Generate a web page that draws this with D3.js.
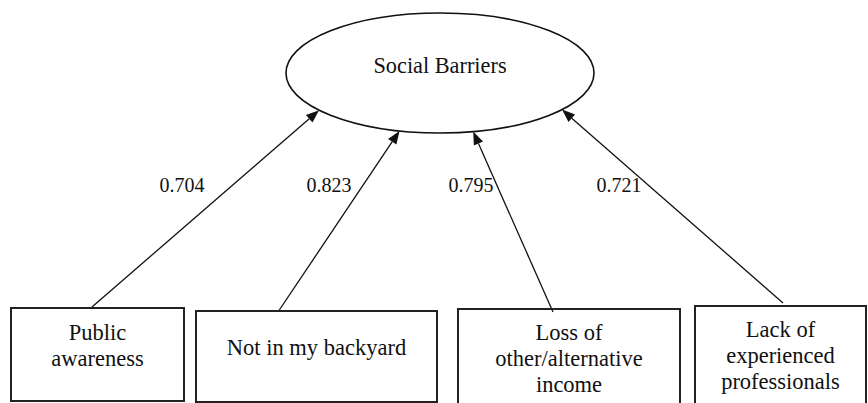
<!DOCTYPE html>
<html>
<head>
<meta charset="utf-8">
<script src="https://cdn.jsdelivr.net/npm/d3@7"></script>
<style>
  html, body { margin: 0; padding: 0; background: #fff; }
  svg { display: block; }
  text { fill: #111; }
</style>
</head>
<body>
<div id="chart"></div>
<script>
"use strict";
// construct and indicator data
const latent = "Social Barriers";
const indicators = [
    ["Public", "awareness"],
    ["Not in my backyard"],
    ["Loss of", "other/alternative", "income"],
    ["Lack of", "experienced", "professionals"]
];
const loadings = [0.704, 0.823, 0.795, 0.721];

// layout (pixels)
const W = 868, H = 403;
const ell = { cx: 440, cy: 73, rx: 154, ry: 60 };
const boxes = [
    { x0: 11, x1: 184, top: 308, bottom: 401, closed: true },
    { x0: 196, x1: 437, top: 311, bottom: 402, closed: true },
    { x0: 458, x1: 680, top: 309, bottom: 403, closed: false },
    { x0: 695, x1: 866, top: 306, bottom: 403, closed: false }
];
const lineStart = [[92, 307], [278, 312], [553, 312], [783, 303]];
const lineEnd = [[313, 112], [398, 133], [474, 133], [570, 112]];
const labelPos = [[182, 192], [329, 192], [471, 192], [619, 192]];
const textTop = [340, 355, 340, 337];

const svg = d3.select("#chart").append("svg")
    .attr("width", W)
    .attr("height", H);

// latent ellipse
svg.append("ellipse")
    .attr("cx", ell.cx)
    .attr("cy", ell.cy)
    .attr("rx", ell.rx)
    .attr("ry", ell.ry)
    .attr("fill", "none")
    .attr("stroke", "#111")
    .attr("stroke-width", 1.6);

svg.append("text")
    .attr("x", ell.cx)
    .attr("y", ell.cy)
    .attr("text-anchor", "middle")
    .attr("font-family", "Liberation Serif")
    .attr("font-size", 22.3)
    .text(latent);

// snap arrow tips onto the ellipse outline
function onEllipse(p) {
    const a = Math.atan2((p[1] - ell.cy) / ell.ry, (p[0] - ell.cx) / ell.rx);
    return [ell.cx + ell.rx * Math.cos(a), ell.cy + ell.ry * Math.sin(a)];
}

const paths = loadings.map((d, i) => {
    const s = lineStart[i], t = onEllipse(lineEnd[i]);
    const len = Math.hypot(t[0] - s[0], t[1] - s[1]);
    const ux = (t[0] - s[0]) / len, uy = (t[1] - s[1]) / len;
    const hl = 13, hw = 5;
    const bx = t[0] - ux * hl, by = t[1] - uy * hl;
    return {
        s: s, t: t, b: [bx, by],
        head: [[t[0], t[1]], [bx - uy * hw, by + ux * hw], [bx + uy * hw, by - ux * hw]]
    };
});

svg.selectAll("line.path")
    .data(paths)
    .enter()
    .append("line")
    .attr("class", "path")
    .attr("x1", d => d.s[0])
    .attr("y1", d => d.s[1])
    .attr("x2", d => d.b[0])
    .attr("y2", d => d.b[1])
    .attr("stroke", "#111")
    .attr("stroke-width", 1.3);

svg.selectAll("path.head")
    .data(paths)
    .enter()
    .append("path")
    .attr("class", "head")
    .attr("d", d => "M" + d.head.map(p => p.join(",")).join("L") + "Z")
    .attr("fill", "#111");

svg.selectAll("text.loading")
    .data(loadings)
    .enter()
    .append("text")
    .attr("class", "loading")
    .attr("x", (d, i) => labelPos[i][0])
    .attr("y", (d, i) => labelPos[i][1])
    .attr("text-anchor", "middle")
    .attr("font-family", "Liberation Serif")
    .attr("font-size", 20)
    .text(d => d.toFixed(3));

// indicator boxes (the two right ones run off the bottom edge)
svg.selectAll("path.box")
    .data(boxes)
    .enter()
    .append("path")
    .attr("class", "box")
    .attr("d", b => b.closed
        ? `M${b.x0},${b.top}H${b.x1}V${b.bottom}H${b.x0}Z`
        : `M${b.x0},${b.bottom}V${b.top}H${b.x1}V${b.bottom}`)
    .attr("fill", "none")
    .attr("stroke", "#222")
    .attr("stroke-width", 2);

indicators.forEach((lines, i) => {
    const cx = (boxes[i].x0 + boxes[i].x1) / 2;
    svg.selectAll("text.ind" + i)
        .data(lines)
        .enter()
        .append("text")
        .attr("class", "ind" + i)
        .attr("x", cx)
        .attr("y", (d, j) => textTop[i] + j * 26)
        .attr("text-anchor", "middle")
        .attr("font-family", "Liberation Serif")
        .attr("font-size", 22.5)
        .text(d => d);
});
</script>
</body>
</html>
